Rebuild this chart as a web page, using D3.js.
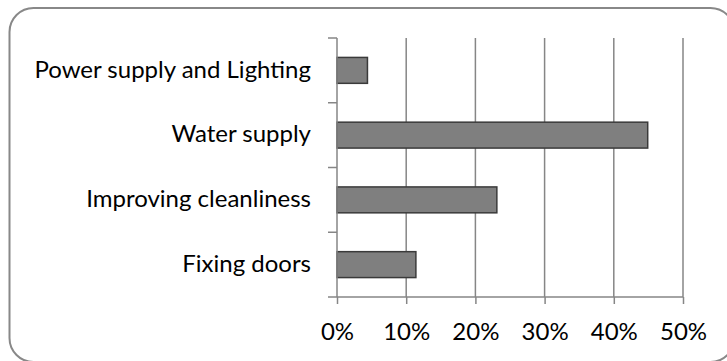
<!DOCTYPE html>
<html>
<head>
<meta charset="utf-8">
<script src="https://cdn.jsdelivr.net/npm/d3@7"></script>
<style>
  html, body { margin: 0; padding: 0; background: #fff; }
  svg { display: block; }
  text { font-family: Lato, "Open Sans", sans-serif; fill: #000; }
</style>
</head>
<body>
<svg id="chart" width="727" height="361"></svg>
<script>
const categories = ["Power supply and Lighting", "Water supply", "Improving cleanliness", "Fixing doors"];
const values = [4.4, 44.9, 23.1, 11.4];
const tickValues = [0, 10, 20, 30, 40, 50];
const tickLabels = ["0%", "10%", "20%", "30%", "40%", "50%"];

const svg = d3.select("#chart");
const W = 727, H = 361;
const margin = { left: 337, right: 44, top: 38, bottom: 64 };
const fontSize = 24;

// chart frame
svg.append("rect")
  .attr("x", 9.5).attr("y", 8)
  .attr("width", 725).attr("height", 354)
  .attr("rx", 24).attr("ry", 24)
  .attr("fill", "#fff")
  .attr("stroke", "#888").attr("stroke-width", 2);

const x = d3.scaleLinear().domain([0, 50]).range([margin.left, W - margin.right]);
const y = d3.scaleBand().domain(categories).range([margin.top, H - margin.bottom]).paddingInner(0.6).paddingOuter(0.3);
const band = d3.scaleBand().domain(categories).range([margin.top, H - margin.bottom]);

// vertical gridlines
svg.append("g").selectAll("line").data(tickValues.slice(1)).join("line")
  .attr("x1", d => x(d)).attr("x2", d => x(d))
  .attr("y1", margin.top).attr("y2", H - margin.bottom)
  .attr("stroke", "#868686").attr("stroke-width", 1.5);

// bars
svg.append("g").selectAll("rect").data(categories).join("rect")
  .attr("x", x(0))
  .attr("y", d => y(d))
  .attr("width", (d, i) => x(values[i]) - x(0))
  .attr("height", y.bandwidth())
  .attr("fill", "#7f7f7f")
  .attr("stroke", "#3a3a3a").attr("stroke-width", 1.5);

// x axis
const xAxis = d3.axisBottom(x).tickValues(tickValues)
  .tickFormat((d, i) => tickLabels[i]).tickSize(7).tickPadding(19).tickSizeOuter(0);
const gx = svg.append("g").attr("transform", `translate(0,${H - margin.bottom})`).call(xAxis);
gx.select(".domain").attr("stroke", "#868686").attr("stroke-width", 1.5)
  .attr("d", `M${margin.left - 9},0H${W - margin.right}`);
gx.selectAll(".tick line").attr("stroke", "#868686").attr("stroke-width", 1.5);
gx.selectAll(".tick text").attr("font-size", fontSize).attr("font-family", "Lato, sans-serif").attr("fill", "#000");

// y axis line and category ticks
svg.append("line")
  .attr("x1", x(0)).attr("x2", x(0))
  .attr("y1", margin.top).attr("y2", H - margin.bottom)
  .attr("stroke", "#868686").attr("stroke-width", 1.5);
const bounds = categories.map(c => band(c));
svg.append("g").selectAll("line").data(bounds).join("line")
  .attr("x1", x(0) - 9).attr("x2", x(0))
  .attr("y1", d => d).attr("y2", d => d)
  .attr("stroke", "#868686").attr("stroke-width", 1.5);

// category labels
svg.append("g").selectAll("text").data(categories).join("text")
  .attr("x", 311)
  .attr("y", d => band(d) + band.bandwidth() / 2)
  .attr("dy", "0.3em")
  .attr("text-anchor", "end")
  .attr("font-size", fontSize)
  .text(d => d);
</script>
</body>
</html>
